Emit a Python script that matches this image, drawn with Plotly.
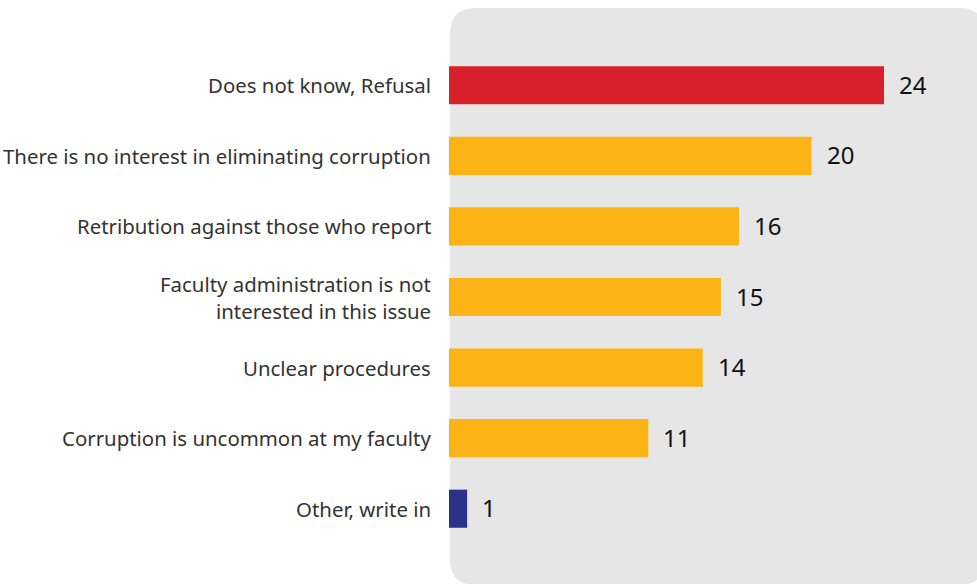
import plotly.graph_objects as go

# Survey responses: reasons for not reporting corruption (%)
categories = [
    "Does not know, Refusal",
    "There is no interest in eliminating corruption",
    "Retribution against those who report",
    "Faculty administration is not<br>interested in this issue",
    "Unclear procedures",
    "Corruption is uncommon at my faculty",
    "Other, write in",
]
values = [24, 20, 16, 15, 14, 11, 1]
colors = ["#D7202A", "#FBB316", "#FBB316", "#FBB316", "#FBB316", "#FBB316", "#2E3189"]

W, H = 977, 584
ML, MR, MT, MB = 449, 0, 50, 40
pw, ph = W - ML - MR, H - MT - MB

fig = go.Figure(
    go.Bar(
        x=values,
        y=categories,
        orientation="h",
        marker=dict(color=colors, line=dict(width=0)),
        width=0.54,
        hoverinfo="skip",
    )
)

# Category labels (right aligned, left of the panel)
annotations = []
for cat in categories:
    lines = cat.split("<br>")
    n = len(lines)
    for i, line in enumerate(lines):
        shift = ((n - 1) / 2 - i) * 27
        annotations.append(dict(
            x=0, xref="paper", y=cat, yref="y",
            text=line, showarrow=False, xanchor="right", yanchor="middle",
            xshift=-16, yshift=shift,
            font=dict(family="Noto Sans", size=20.4, color="#333333"),
        ))

# Value labels to the right of each bar
for cat, v in zip(categories, values):
    annotations.append(dict(
        x=v, xref="x", y=cat, yref="y",
        text=str(v), showarrow=False, xanchor="left", yanchor="middle",
        xshift=13, yshift=1,
        font=dict(family="Noto Sans", size=24, color="#111111"),
    ))

# Rounded grey background panel
def px_x(p):
    return (p - ML) / pw

def px_y(p):
    return (H - MB - p) / ph

x0, x1, y0, y1, r = 450, 985, 8, 585, 26
rx, ry = r / pw, r / ph
X0, X1, Yt, Yb = px_x(x0), px_x(x1), px_y(y0), px_y(y1)
path = (
    f"M {X0 + rx} {Yt} L {X1 - rx} {Yt} Q {X1} {Yt} {X1} {Yt - ry} "
    f"L {X1} {Yb + ry} Q {X1} {Yb} {X1 - rx} {Yb} "
    f"L {X0 + rx} {Yb} Q {X0} {Yb} {X0} {Yb + ry} "
    f"L {X0} {Yt - ry} Q {X0} {Yt} {X0 + rx} {Yt} Z"
)

fig.update_layout(
    width=W, height=H,
    margin=dict(l=ML, r=MR, t=MT, b=MB, pad=0),
    paper_bgcolor="white",
    plot_bgcolor="rgba(0,0,0,0)",
    showlegend=False,
    annotations=annotations,
    shapes=[dict(type="path", path=path, xref="paper", yref="paper",
                 fillcolor="#E6E6E6", line=dict(width=0), layer="below")],
    xaxis=dict(range=[0, pw / 18.125], visible=False, fixedrange=True),
    yaxis=dict(autorange="reversed", showticklabels=False, showgrid=False,
               zeroline=False, showline=False, ticks="", fixedrange=True),
)

fig.write_html("out.html", config={"displayModeBar": False})
